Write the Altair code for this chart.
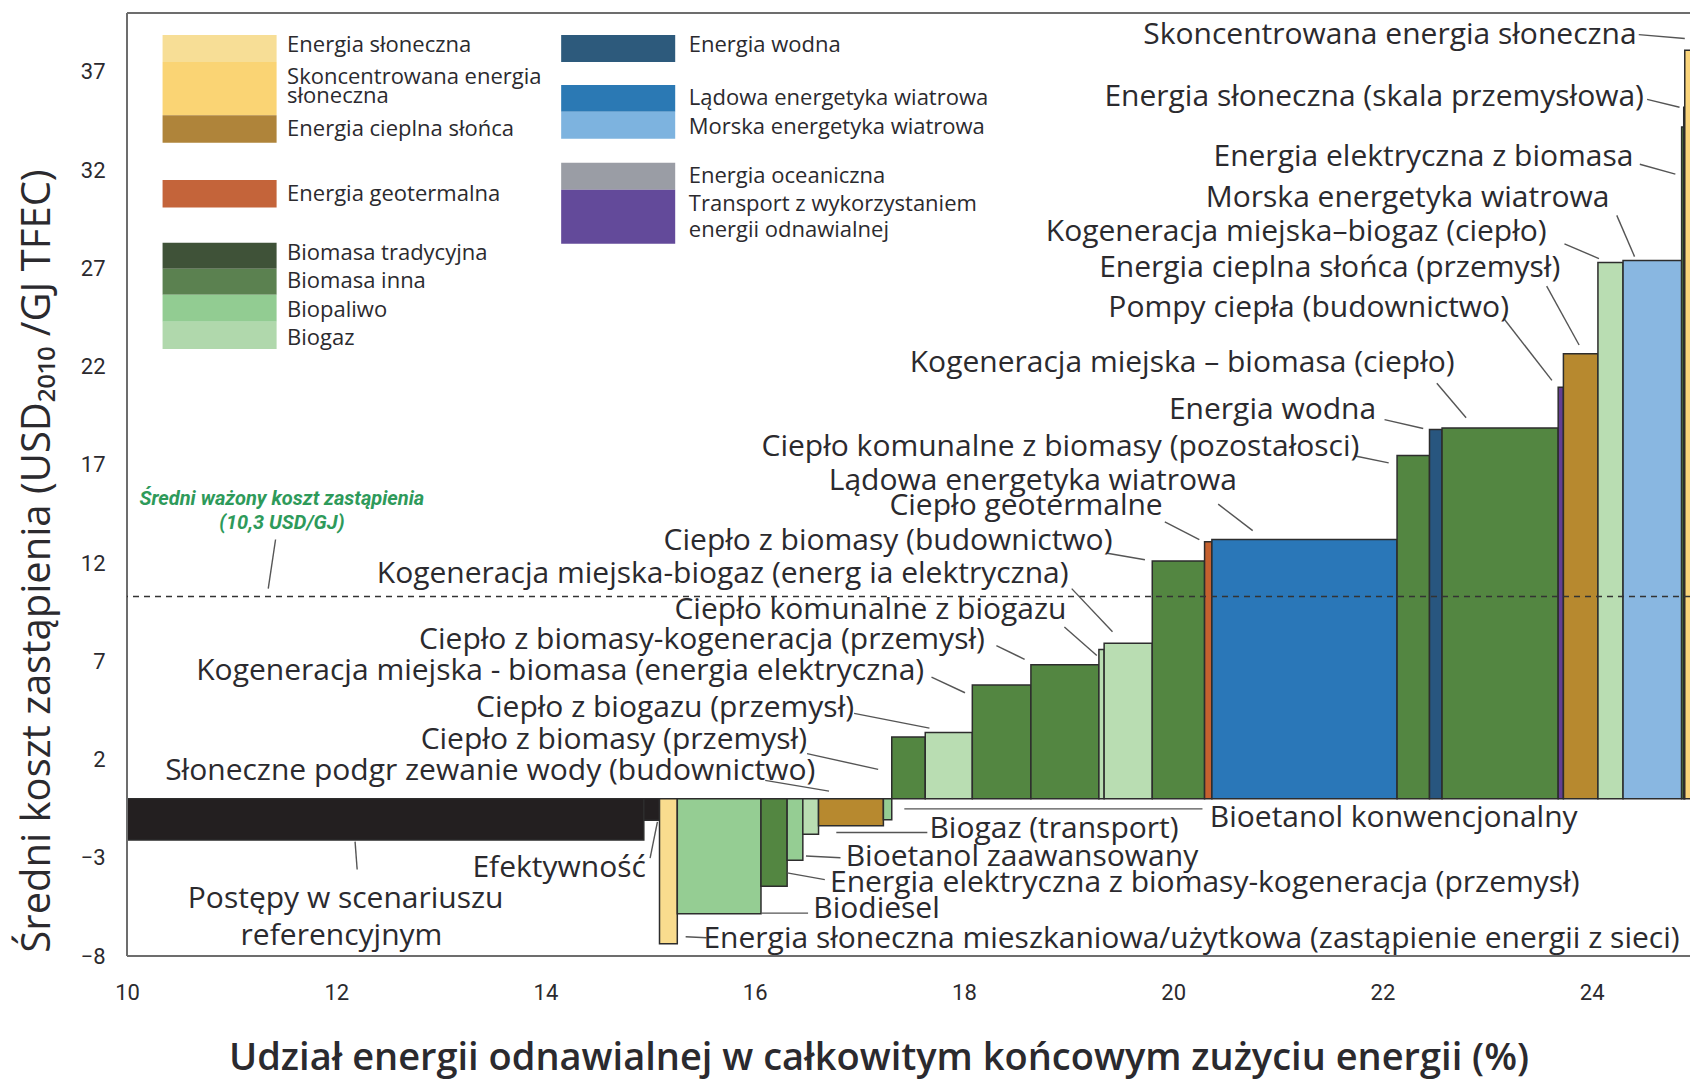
import altair as alt
import pandas as pd

# ---------------- data ----------------
bar_names = [
    "Postępy w scenariuszu referencyjnym", "Efektywność",
    "Energia słoneczna mieszkaniowa/użytkowa", "Biodiesel",
    "Energia elektryczna z biomasy-kogeneracja (przemysł)", "Bioetanol zaawansowany",
    "Biogaz (transport)", "Słoneczne podgrzewanie wody (budownictwo)",
    "Bioetanol konwencjonalny", "Ciepło z biomasy (przemysł)",
    "Ciepło z biogazu (przemysł)", "Kogeneracja miejska - biomasa (energia elektryczna)",
    "Ciepło z biomasy-kogeneracja (przemysł)", "Ciepło komunalne z biogazu",
    "Kogeneracja miejska-biogaz (energia elektryczna)", "Ciepło z biomasy (budownictwo)",
    "Ciepło geotermalne", "Lądowa energetyka wiatrowa",
    "Ciepło komunalne z biomasy (pozostałości)", "Energia wodna",
    "Kogeneracja miejska-biomasa (ciepło)", "Pompy ciepła (budownictwo)",
    "Energia cieplna słońca (przemysł)", "Kogeneracja miejska-biogaz (ciepło)",
    "Morska energetyka wiatrowa", "Energia elektryczna z biomasa",
    "Energia słoneczna (skala przemysłowa)", "Skoncentrowana energia słoneczna",
]
bar_start = [10.0, 14.94, 15.09, 15.26, 16.06, 16.31, 16.46, 16.61, 17.23, 17.31,
             17.63, 18.08, 18.64, 19.29, 19.34, 19.80, 20.30, 20.37, 22.14, 22.45,
             22.57, 23.68, 23.73, 24.06, 24.30, 24.86, 24.88, 24.89]
bar_end = [14.94, 15.09, 15.26, 16.06, 16.31, 16.46, 16.61, 17.23, 17.31, 17.63,
           18.08, 18.64, 19.29, 19.34, 19.80, 20.30, 20.37, 22.14, 22.45, 22.57,
           23.68, 23.73, 24.06, 24.30, 24.86, 24.88, 24.89, 25.0]
bar_cost = [-2.10, -1.09, -7.38, -5.85, -4.45, -3.12, -1.80, -1.37, -1.06, 3.15,
            3.38, 5.80, 6.82, 7.60, 7.92, 12.10, 13.08, 13.20, 17.47, 18.80,
            18.88, 20.95, 22.65, 27.30, 27.40, 34.20, 35.20, 38.10]
bar_group = ["ref", "ref", "pv", "biofuel", "biomass", "biofuel", "biogas", "solarth",
             "biofuel", "biomass", "biogas", "biomass", "biomass", "biogas", "biogas",
             "biomass", "geo", "onshore", "biomass", "hydro", "biomass", "transport",
             "solarth", "biogas", "offshore", "biomass", "pv", "csp"]

group_keys = ["ref", "pv", "csp", "solarth", "geo", "tradbio", "biomass", "biofuel",
              "biogas", "hydro", "onshore", "offshore", "ocean", "transport"]
group_colors = ["#231F20", "#F9DC8E", "#FAD47A", "#B7892F", "#C5612F", "#3F5238",
                "#538641", "#95CD93", "#B9DDB2", "#28567F", "#2A77B8", "#89B7E1",
                "#9A9DA5", "#643E92"]

avg_cost = [10.3]

# annotation labels
lab_text = [
    "Skoncentrowana energia słoneczna", "Energia słoneczna (skala przemysłowa)",
    "Energia elektryczna z biomasa", "Morska energetyka wiatrowa",
    "Kogeneracja miejska–biogaz (ciepło)", "Energia cieplna słońca (przemysł)",
    "Pompy ciepła (budownictwo)", "Kogeneracja miejska – biomasa (ciepło)",
    "Energia wodna", "Ciepło komunalne z biomasy (pozostałosci)",
    "Lądowa energetyka wiatrowa", "Ciepło geotermalne",
    "Ciepło z biomasy (budownictwo)", "Kogeneracja miejska-biogaz (energ ia elektryczna)",
    "Ciepło komunalne z biogazu", "Ciepło z biomasy-kogeneracja (przemysł)",
    "Kogeneracja miejska - biomasa (energia elektryczna)", "Ciepło z biogazu (przemysł)",
    "Ciepło z biomasy (przemysł)", "Słoneczne podgr zewanie wody (budownictwo)",
    "Bioetanol konwencjonalny", "Biogaz (transport)", "Bioetanol zaawansowany",
    "Energia elektryczna z biomasy-kogeneracja (przemysł)", "Biodiesel",
    "Energia słoneczna mieszkaniowa/użytkowa (zastąpienie energii z sieci)",
    "Efektywność", "Postępy w scenariuszu", "referencyjnym",
]
lab_x = [24.43, 24.50, 24.40, 24.17, 23.57, 23.70, 23.21, 22.69, 21.94, 21.78,
         20.61, 19.90, 19.42, 19.00, 18.98, 18.20, 17.62, 16.95, 16.50, 16.58,
         20.35, 17.67, 16.87, 16.72, 16.56, 15.51, 14.96, 12.09, 12.05]
lab_y = [38.9, 35.7, 32.65, 30.6, 28.85, 27.0, 25.0, 22.2, 19.8, 17.9,
         16.2, 14.9, 13.1, 11.45, 9.6, 8.1, 6.5, 4.6, 3.0, 1.43,
         -1.0, -1.55, -2.97, -4.3, -5.6, -7.16, -3.5, -5.1, -7.0]
lab_align = ["right"] * 20 + ["left"] * 6 + ["right", "center", "center"]

# leader lines
ld_x1 = [24.45, 24.53, 24.46, 24.24, 23.74, 23.57, 23.16, 22.52, 22.02, 21.74,
         20.43, 19.92, 19.37, 19.03, 18.96, 18.31, 17.69, 16.95, 16.50, 16.10,
         17.43, 16.78, 16.49, 16.31, 16.06, 15.34, 15.00, 12.18, 11.42]
ld_y1 = [38.9, 35.6, 32.3, 29.7, 28.25, 26.1, 24.45, 21.15, 19.3, 17.45,
         15.0, 14.1, 12.5, 10.7, 8.75, 7.8, 6.2, 4.35, 2.3, 0.94,
         -0.51, -1.71, -2.91, -3.77, -5.82, -7.02, -3.02, -2.18, 13.2]
ld_x2 = [24.89, 24.84, 24.80, 24.41, 24.07, 23.88, 23.62, 22.80, 22.39, 22.06,
         20.76, 20.25, 19.73, 19.42, 19.27, 18.58, 18.01, 17.67, 17.18, 16.71,
         20.28, 17.65, 16.82, 16.67, 16.51, 15.54, 15.07, 12.20, 11.35]
ld_y2 = [38.7, 35.2, 31.8, 27.6, 27.5, 23.1, 21.3, 19.4, 18.85, 17.1,
         13.65, 13.2, 12.17, 8.5, 7.3, 7.1, 5.4, 3.6, 1.5, 0.39,
         -0.51, -1.71, -3.0, -4.11, -5.82, -7.07, -1.17, -3.6, 10.7]

avg_text = ["Średni ważony koszt zastąpienia", "(10,3 USD/GJ)"]
avg_x = [11.48, 11.48]
avg_y = [15.25, 14.04]

# legend
leg_group = ["pv", "csp", "solarth", "geo", "tradbio", "biomass", "biofuel", "biogas",
             "hydro", "onshore", "offshore", "ocean", "transport"]
leg_x0 = [10.34] * 8 + [14.15] * 5
leg_x1 = [11.43] * 8 + [15.24] * 5
leg_ytop = [38.88, 37.50, 34.80, 31.50, 28.30, 26.98, 25.66, 24.28,
            38.88, 36.34, 34.97, 32.38, 31.00]
leg_ybot = [37.50, 34.80, 33.40, 30.10, 26.98, 25.66, 24.28, 22.90,
            37.50, 34.97, 33.60, 31.00, 28.25]
leg_color = ["#F7DE96", "#FAD474", "#AF843A", "#C4643A", "#3F5238", "#5B8150",
             "#92CC92", "#B0D8AC", "#2D5A7C", "#2B79B4", "#7DB3DF", "#9A9DA5", "#634A9A"]

leg_text = ["Energia słoneczna", "Skoncentrowana energia", "słoneczna",
            "Energia cieplna słońca", "Energia geotermalna", "Biomasa tradycyjna",
            "Biomasa inna", "Biopaliwo", "Biogaz", "Energia wodna",
            "Lądowa energetyka wiatrowa", "Morska energetyka wiatrowa",
            "Energia oceaniczna", "Transport z wykorzystaniem", "energii odnawialnej"]
leg_tx = [11.53] * 9 + [15.37] * 6
leg_ty = [38.38, 36.75, 35.78, 34.09, 30.78, 27.8, 26.38, 24.89, 23.46,
          38.38, 35.68, 34.2, 31.72, 30.29, 28.96]

# plot frame (top, left, bottom)
frame_x1 = [10, 10, 10]
frame_x2 = [25, 10, 25]
frame_y1 = [40, -8, -8]
frame_y2 = [40, 40, -8]

x_ticks = [10, 12, 14, 16, 18, 20, 22, 24]
y_ticks = [-8, -3, 2, 7, 12, 17, 22, 27, 32, 37]

FONT = "Open Sans"
TXT = "#2b2a2e"

# ---------------- chart ----------------
xs = alt.Scale(domain=[10, 24.94], nice=False, zero=False)
ys = alt.Scale(domain=[-8, 40], nice=False, zero=False)
AX = alt.Axis(values=x_ticks, ticks=False, domain=False, grid=False,
              labelFontSize=22, labelFont="Roboto", labelColor=TXT,
              labelPadding=26, title=None, labelFlush=False)
AY = alt.Axis(values=y_ticks, ticks=False, domain=False, grid=False,
              labelFontSize=22, labelFont="Roboto", labelColor=TXT,
              labelPadding=22, title=None)


def X(f):
    return alt.X(f, scale=xs, axis=AX)


def Y(f):
    return alt.Y(f, scale=ys, axis=AY)


bars_df = pd.DataFrame({"name": bar_names, "x0": bar_start, "x1": bar_end,
                        "cost": bar_cost, "grp": bar_group})
bars_df["base"] = 0.0

bars = alt.Chart(bars_df).mark_rect(stroke="#2d2d2d", strokeWidth=1.5).encode(
    x=X("x0:Q"), x2="x1:Q", y=Y("cost:Q"), y2="base:Q",
    color=alt.Color("grp:N", scale=alt.Scale(domain=group_keys, range=group_colors),
                    legend=None),
)

frame = alt.Chart(pd.DataFrame({"x1": frame_x1, "x2": frame_x2, "y1": frame_y1,
                                "y2": frame_y2})).mark_rule(
    color="#6d6d6d", strokeWidth=2).encode(x=X("x1:Q"), x2="x2:Q", y=Y("y1:Q"), y2="y2:Q")

avg_rule = alt.Chart(pd.DataFrame({"y": avg_cost})).mark_rule(
    strokeDash=[6, 5], color="#333333", strokeWidth=1.5).encode(y=Y("y:Q"))

lead_df = pd.DataFrame({"x1": ld_x1, "y1": ld_y1, "x2": ld_x2, "y2": ld_y2})
leaders = alt.Chart(lead_df).mark_rule(color="#555555", strokeWidth=1.4).encode(
    x=X("x1:Q"), y=Y("y1:Q"), x2="x2:Q", y2="y2:Q")

lab_df = pd.DataFrame({"t": lab_text, "x": lab_x, "y": lab_y, "a": lab_align})
label_layers = []
for al in ["left", "right", "center"]:
    sub = lab_df[lab_df["a"] == al]
    label_layers.append(
        alt.Chart(sub).mark_text(align=al, baseline="middle", fontSize=30,
                                 font=FONT, color=TXT).encode(
            x=X("x:Q"), y=Y("y:Q"), text="t:N"))

avg_lbl = alt.Chart(pd.DataFrame({"t": avg_text, "x": avg_x, "y": avg_y})).mark_text(
    align="center", baseline="middle", fontSize=20, font="Roboto", fontWeight="bold",
    fontStyle="italic", color="#2E9A5A").encode(x=X("x:Q"), y=Y("y:Q"), text="t:N")

leg_df = pd.DataFrame({"x0": leg_x0, "x1": leg_x1, "yt": leg_ytop, "yb": leg_ybot,
                       "c": leg_color, "g": leg_group})
leg_rects = alt.Chart(leg_df).mark_rect().encode(
    x=X("x0:Q"), x2="x1:Q", y=Y("yt:Q"), y2="yb:Q", color=alt.Color("c:N", scale=None))

leg_lbl = alt.Chart(pd.DataFrame({"t": leg_text, "x": leg_tx, "y": leg_ty})).mark_text(
    align="left", baseline="middle", fontSize=22, font=FONT, color=TXT).encode(
    x=X("x:Q"), y=Y("y:Q"), text="t:N")

one = pd.DataFrame({"t": ["Średni koszt zastąpienia  (USD₂₀₁₀ /GJ TFEC)"]})
ytitle = alt.Chart(one).mark_text(angle=270, align="center", baseline="middle",
                                  fontSize=40, font=FONT, color=TXT).encode(
    x=alt.value(-89), y=alt.value(548), text="t:N")

one_x = pd.DataFrame({"t": ["Udział energii odnawialnej w całkowitym końcowym zużyciu energii (%)"]})
xtitle = alt.Chart(one_x).mark_text(align="center", baseline="middle", fontSize=38,
                                    font=FONT, fontWeight=600, color=TXT).encode(
    x=alt.value(752), y=alt.value(1046), text="t:N")

chart = alt.layer(
    bars, frame, avg_rule, leaders, *label_layers, avg_lbl, leg_rects, leg_lbl,
    ytitle, xtitle
).properties(
    width=1563, height=943,
    autosize=alt.AutoSizeParams(type="none"),
    padding={"left": 119, "top": 5, "right": 0, "bottom": 125},
).configure_view(stroke=None)

chart.save("out.html", embed_options={"renderer": "svg", "actions": False})
